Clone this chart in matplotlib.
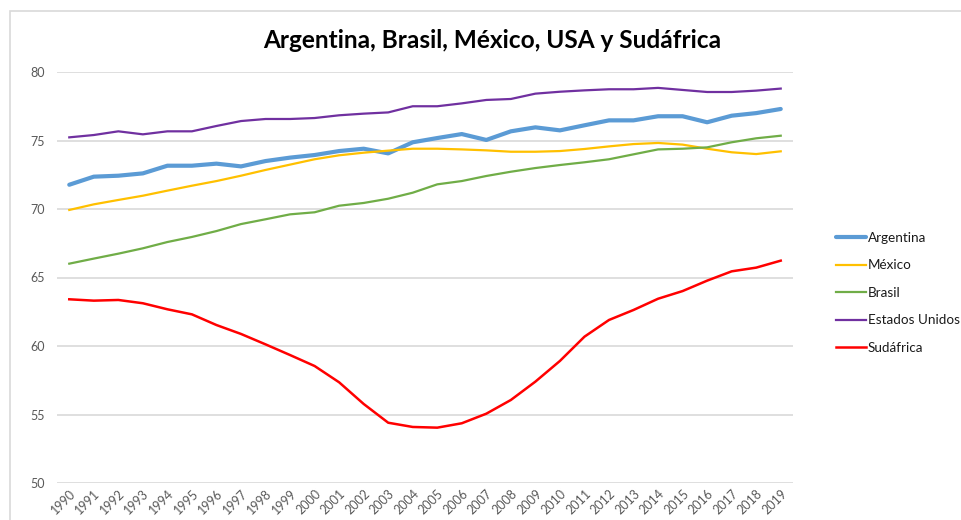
import matplotlib
matplotlib.use("Agg")
import matplotlib.pyplot as plt
from matplotlib.patches import Rectangle

years = [str(y) for y in range(1990, 2020)]

argentina = [71.77, 72.36, 72.43, 72.60, 73.16, 73.16, 73.31, 73.11, 73.50, 73.75,
             73.94, 74.23, 74.40, 74.06, 74.87, 75.18, 75.47, 75.04, 75.67, 75.96,
             75.74, 76.11, 76.47, 76.47, 76.77, 76.77, 76.33, 76.81, 77.00, 77.30]
mexico = [69.93, 70.34, 70.66, 70.97, 71.34, 71.70, 72.04, 72.43, 72.85, 73.24,
          73.63, 73.92, 74.11, 74.26, 74.40, 74.40, 74.35, 74.28, 74.18, 74.18,
          74.23, 74.38, 74.57, 74.74, 74.82, 74.70, 74.40, 74.14, 74.01, 74.21]
brasil = [66.01, 66.38, 66.74, 67.13, 67.59, 67.96, 68.39, 68.90, 69.25, 69.61,
          69.76, 70.24, 70.44, 70.75, 71.19, 71.80, 72.04, 72.41, 72.72, 72.99,
          73.21, 73.41, 73.63, 73.99, 74.35, 74.40, 74.50, 74.87, 75.16, 75.35]
usa = [75.23, 75.40, 75.67, 75.45, 75.67, 75.67, 76.06, 76.42, 76.57, 76.57,
       76.64, 76.84, 76.96, 77.05, 77.50, 77.50, 77.71, 77.96, 78.03, 78.42,
       78.56, 78.66, 78.74, 78.74, 78.84, 78.69, 78.54, 78.54, 78.64, 78.79]
sudafrica = [63.41, 63.31, 63.36, 63.12, 62.68, 62.31, 61.53, 60.88, 60.12, 59.34,
             58.54, 57.35, 55.77, 54.40, 54.09, 54.04, 54.36, 55.06, 56.06, 57.40,
             58.91, 60.68, 61.90, 62.63, 63.45, 64.01, 64.77, 65.45, 65.72, 66.23]

yticks = [50, 55, 60, 65, 70, 75, 80]
title = "Argentina, Brasil, México, USA y Sudáfrica"

fig = plt.figure(figsize=(9.61, 5.20), dpi=100)
fig.patches.append(Rectangle((9.5/961, -0.1), 1.2, 1 - 10.5/520 + 0.1,
                             transform=fig.transFigure, fill=False,
                             edgecolor="#d9d9d9", linewidth=1.2))
ax = fig.add_axes([57/961, 1 - 483/520, (793 - 57)/961, (483 - 72)/520])

x = list(range(len(years)))
ax.plot(x, argentina, color="#5b9bd5", lw=3.0, label="Argentina", solid_capstyle="round")
ax.plot(x, mexico, color="#ffc000", lw=1.6, label="México")
ax.plot(x, brasil, color="#70ad47", lw=1.6, label="Brasil")
ax.plot(x, usa, color="#7030a0", lw=1.6, label="Estados Unidos")
ax.plot(x, sudafrica, color="#ff0000", lw=1.8, label="Sudáfrica")

ax.set_xlim(-0.5, len(years) - 0.5)
ax.set_ylim(50, 80)
ax.set_yticks(yticks)
ax.set_xticks(x)
ax.set_xticklabels(years, rotation=45, ha="right", rotation_mode="anchor")
ax.grid(axis="y", color="#d9d9d9", lw=1.2)
ax.set_axisbelow(True)
for s in ax.spines.values():
    s.set_visible(False)
ax.tick_params(axis="both", length=0, colors="#595959", labelsize=9)
ax.tick_params(axis="y", pad=9)
ax.tick_params(axis="x", pad=3)
for lab in ax.get_xticklabels() + ax.get_yticklabels():
    lab.set_fontfamily("Lato")

fig.text(492/961, 1 - 40/520, title, ha="center", va="center",
         fontsize=17.6, fontweight="bold", fontfamily="Lato", color="#000000")

leg = ax.legend(loc="upper left", bbox_to_anchor=(836/961, 1 - 232/520),
                bbox_transform=fig.transFigure, frameon=False,
                prop={"family": "Lato", "size": 9.7}, handlelength=2.2,
                handletextpad=0.15, labelspacing=1.15, borderaxespad=0,
                borderpad=0)
for t in leg.get_texts():
    t.set_color("#1a1a1a")

fig.savefig("out.png", dpi=100)
